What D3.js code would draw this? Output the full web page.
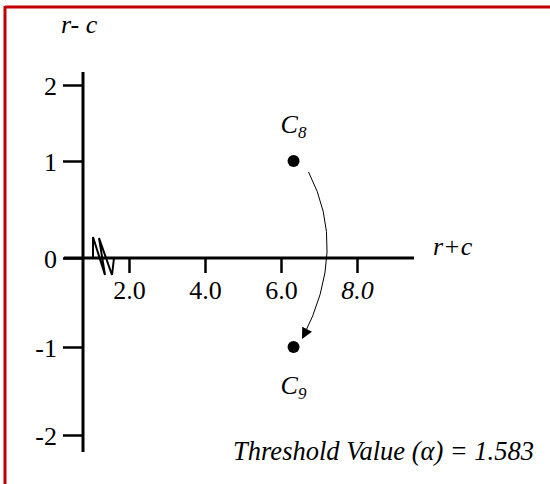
<!DOCTYPE html>
<html>
<head>
<meta charset="utf-8">
<script src="https://cdn.jsdelivr.net/npm/d3@7"></script>
<style>
  body { margin: 0; background: #fff; }
  svg { display: block; font-family: "Liberation Serif", "Times New Roman", serif; }
</style>
</head>
<body>
<div id="chart"></div>
<script>
// chart values
const yTicks = [-2, -1, 0, 1, 2];
const xTicks = [2.0, 4.0, 6.0, 8.0];
const pointNames = ["C", "C"];
const pointSubs = ["8", "9"];
const pointX = [6.33, 6.33];
const pointY = [1, -1];
const threshold = 1.583;

const width = 550;
const height = 484;
const fontSize = "26px";

const svg = d3
  .select("#chart")
  .append("svg")
  .attr("width", width)
  .attr("height", height);

// red frame (only top and left edges visible)
svg.append("line")
  .attr("x1", 5).attr("x2", width).attr("y1", 7).attr("y2", 7)
  .attr("stroke", "#c00000").attr("stroke-width", 3);
svg.append("line")
  .attr("x1", 5).attr("x2", 5).attr("y1", 6).attr("y2", height)
  .attr("stroke", "#c00000").attr("stroke-width", 3);

// scales (y axis is hand-drawn in the original, so uneven spacing)
const x = d3.scaleLinear().domain([2, 8]).range([129, 357]);
const y = d3.scaleLinear().domain([-2, -1, 0, 1, 2]).range([435, 347, 258, 161, 85]);

const axisX = 83;
const axisY = y(0);

// y axis
const yAxis = svg
  .append("g")
  .attr("transform", `translate(${axisX},0)`)
  .call(d3.axisLeft(y).tickValues(yTicks).tickSize(20).tickPadding(6).tickFormat((d) => String(d)));
yAxis.select(".domain").remove();
yAxis.selectAll(".tick line").attr("stroke", "#000").attr("stroke-width", 2.5);
yAxis.selectAll(".tick text")
  .attr("fill", "#000")
  .style("font-size", fontSize)
  .style("font-family", "Liberation Serif, serif")
  .attr("dy", "0.35em");

svg.append("line")
  .attr("x1", axisX).attr("x2", axisX)
  .attr("y1", 72).attr("y2", 452)
  .attr("stroke", "#000").attr("stroke-width", 3);

// x axis
const xAxis = svg
  .append("g")
  .attr("transform", `translate(0,${axisY})`)
  .call(d3.axisBottom(x).tickValues(xTicks).tickSize(15).tickPadding(8).tickFormat(d3.format(".1f")));
xAxis.select(".domain").remove();
xAxis.selectAll(".tick line").attr("stroke", "#000").attr("stroke-width", 2.5);
xAxis.selectAll(".tick text")
  .attr("fill", "#000")
  .style("font-size", fontSize)
  .style("font-family", "Liberation Serif, serif")
  .style("font-style", (d, i) => (i === xTicks.length - 1 ? "italic" : "normal"));

svg.append("line")
  .attr("x1", 64).attr("x2", 414)
  .attr("y1", axisY).attr("y2", axisY)
  .attr("stroke", "#000").attr("stroke-width", 3);

// axis break zigzag
svg.append("path")
  .attr("d", `M93,${axisY} L93,${axisY - 21} L105,${axisY + 17} L99,${axisY - 20} L112,${axisY + 17} L114,${axisY}`)
  .attr("fill", "none")
  .attr("stroke", "#000")
  .attr("stroke-width", 2);

// axis titles
svg.append("text")
  .attr("x", 61).attr("y", 33)
  .style("font-size", fontSize).style("font-style", "italic")
  .text("r- c");

svg.append("text")
  .attr("x", 433).attr("y", 255)
  .style("font-size", fontSize).style("font-style", "italic")
  .text("r+c");

// arrow marker
svg.append("defs")
  .append("marker")
  .attr("id", "arrow")
  .attr("viewBox", "0 0 10 10")
  .attr("refX", 9).attr("refY", 5)
  .attr("markerWidth", 11).attr("markerHeight", 11)
  .attr("markerUnits", "userSpaceOnUse")
  .attr("orient", "auto")
  .append("path")
  .attr("d", "M0,0 L10,5 L0,10 Z")
  .attr("fill", "#000");

// curved arrow from C8 to C9
const p0 = [x(pointX[0]) + 15, y(pointY[0]) + 11];
const p2 = [x(pointX[1]) + 9, y(pointY[1]) - 9];
const ctrl = [p0[0] + 40, (p0[1] + p2[1]) / 2 - 6];
svg.append("path")
  .attr("d", `M${p0[0]},${p0[1]} Q${ctrl[0]},${ctrl[1]} ${p2[0]},${p2[1]}`)
  .attr("fill", "none")
  .attr("stroke", "#000")
  .attr("stroke-width", 1)
  .attr("marker-end", "url(#arrow)");

// points
svg.selectAll(".pt")
  .data(pointX)
  .join("circle")
  .attr("class", "pt")
  .attr("cx", (d) => x(d))
  .attr("cy", (d, i) => y(pointY[i]))
  .attr("r", 6)
  .attr("fill", "#000");

// point labels
const labels = svg.selectAll(".pt-label")
  .data(pointX)
  .join("text")
  .attr("class", "pt-label")
  .attr("x", (d) => x(d) - 13)
  .attr("y", (d, i) => (pointY[i] > 0 ? y(pointY[i]) - 28 : y(pointY[i]) + 47))
  .style("font-size", fontSize)
  .style("font-style", "italic");
labels.append("tspan").text((d, i) => pointNames[i]);
labels.append("tspan")
  .attr("dy", 5)
  .style("font-size", "17px")
  .text((d, i) => pointSubs[i]);

// threshold note
svg.append("text")
  .attr("x", 534).attr("y", 460)
  .attr("text-anchor", "end")
  .style("font-size", "26.5px")
  .style("font-style", "italic")
  .text(`Threshold Value (α) = ${threshold}`);
</script>
</body>
</html>
